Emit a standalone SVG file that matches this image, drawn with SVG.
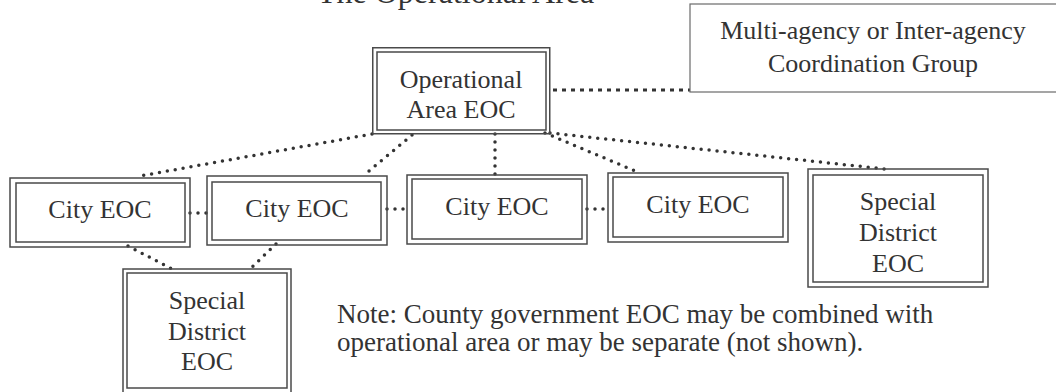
<svg xmlns="http://www.w3.org/2000/svg" width="1056" height="392" viewBox="0 0 1056 392">
<style>
.b{fill:none;stroke:#4a4a4a;stroke-width:1.5}
.s{fill:none;stroke:#6a6a6a;stroke-width:1.2}
.t{font-family:"Liberation Serif","Times New Roman",serif;font-size:26px;fill:#333;text-anchor:middle}
.n{font-family:"Liberation Serif","Times New Roman",serif;font-size:27px;fill:#333}
.d{fill:none;stroke:#333;stroke-width:3.5;stroke-linecap:round;stroke-dasharray:0 8}
.q{fill:none;stroke:#333;stroke-width:3;stroke-dasharray:4 5}
</style>
<rect width="1056" height="392" fill="#fff"/>
<text class="n" x="317" y="3" style="font-size:32px">The Operational Area</text>
<g id="connectors">
<line class="q" x1="553" y1="90" x2="690" y2="90"/>
<line class="d" x1="372" y1="134" x2="140" y2="176"/>
<line class="d" x1="412" y1="135" x2="363" y2="176"/>
<line class="d" x1="495" y1="134" x2="495" y2="180"/>
<line class="d" x1="545" y1="133" x2="640" y2="173"/>
<line class="d" x1="550" y1="133" x2="885" y2="169"/>
<line class="d" x1="190" y1="213" x2="207" y2="213"/>
<line class="d" x1="387" y1="209" x2="407" y2="209"/>
<line class="d" x1="587" y1="209" x2="608" y2="209"/>
<line class="d" x1="128" y1="246" x2="172" y2="269"/>
<line class="d" x1="276" y1="244" x2="250" y2="269"/>
</g>
<g id="multi">
<rect class="s" x="690" y="4" width="380" height="88"/>
<text class="t" x="873" y="39">Multi-agency or Inter-agency</text>
<text class="t" x="873" y="72">Coordination Group</text>
</g>
<g id="op">
<rect class="b" x="372.75" y="47.75" width="177" height="86"/>
<rect class="b" x="377" y="52" width="169" height="78"/>
<text class="t" x="461" y="88">Operational</text>
<text class="t" x="461" y="118">Area EOC</text>
</g>
<g id="city1">
<rect class="b" x="10" y="178" width="180" height="69"/>
<rect class="b" x="16" y="183" width="169" height="59"/>
<text class="t" x="100" y="218">City EOC</text>
</g>
<g id="city2">
<rect class="b" x="207" y="176" width="180" height="69"/>
<rect class="b" x="212" y="182" width="169" height="58"/>
<text class="t" x="297" y="217">City EOC</text>
</g>
<g id="city3">
<rect class="b" x="407" y="175" width="180" height="69"/>
<rect class="b" x="412" y="179" width="170" height="60"/>
<text class="t" x="497" y="215">City EOC</text>
</g>
<g id="city4">
<rect class="b" x="608" y="173" width="180" height="69"/>
<rect class="b" x="613" y="177" width="170" height="60"/>
<text class="t" x="698" y="213">City EOC</text>
</g>
<g id="sd1">
<rect class="b" x="808" y="169" width="180" height="118"/>
<rect class="b" x="813" y="175" width="170" height="107"/>
<text class="t" x="898" y="210">Special</text>
<text class="t" x="898" y="241">District</text>
<text class="t" x="898" y="272">EOC</text>
</g>
<g id="sd2">
<rect class="b" x="123" y="269" width="168" height="126"/>
<rect class="b" x="127" y="273" width="160" height="115"/>
<text class="t" x="207" y="309">Special</text>
<text class="t" x="207" y="340">District</text>
<text class="t" x="207" y="370">EOC</text>
</g>
<g id="note">
<text class="n" x="337" y="323">Note: County government EOC may be combined with</text>
<text class="n" x="337" y="351">operational area or may be separate (not shown).</text>
</g>
</svg>
